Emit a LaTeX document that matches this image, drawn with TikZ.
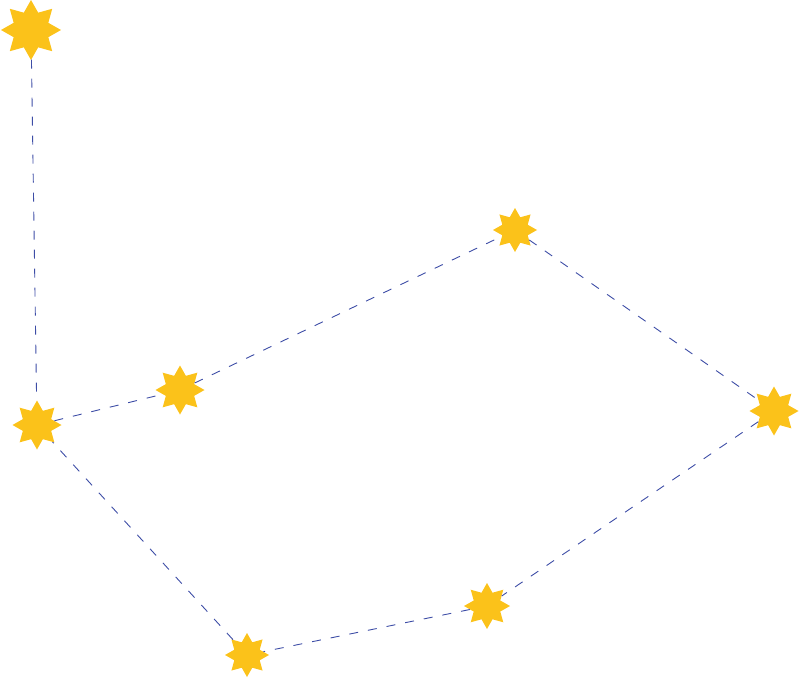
\documentclass[tikz,border=0pt]{standalone}
\usepackage{xcolor}
\usetikzlibrary{shapes.geometric}
\definecolor{stargold}{HTML}{FBC21A}
\definecolor{linkblue}{HTML}{3D4DA6}

\begin{document}
\begin{tikzpicture}[x=1pt, y=-1pt,
  starnode/.style={star, star points=8, star point ratio=1.6, fill=stargold,
    draw=none, inner sep=0pt},
  link/.style={draw=linkblue, line width=0.9pt, dash pattern=on 9pt off 10pt},
]
  \useasboundingbox (0,0) rectangle (800,677);

  \node[starnode, minimum size=60pt] (st1) at (31,30) {};
  \node[starnode, minimum size=44pt] (st2) at (515,230) {};
  \node[starnode, minimum size=49pt] (st3) at (180,390) {};
  \node[starnode, minimum size=49pt] (st4) at (37,425) {};
  \node[starnode, minimum size=49pt] (st5) at (774,411) {};
  \node[starnode, minimum size=46pt] (st6) at (487,606) {};
  \node[starnode, minimum size=44pt] (st7) at (247,655) {};

  \draw[link] (st1) -- (st4);
  \draw[link] (st4) -- (st3);
  \draw[link] (st3) -- (st2);
  \draw[link] (st2) -- (st5);
  \draw[link] (st5) -- (st6);
  \draw[link] (st6) -- (st7);
  \draw[link] (st7) -- (st4);
\end{tikzpicture}
\end{document}
